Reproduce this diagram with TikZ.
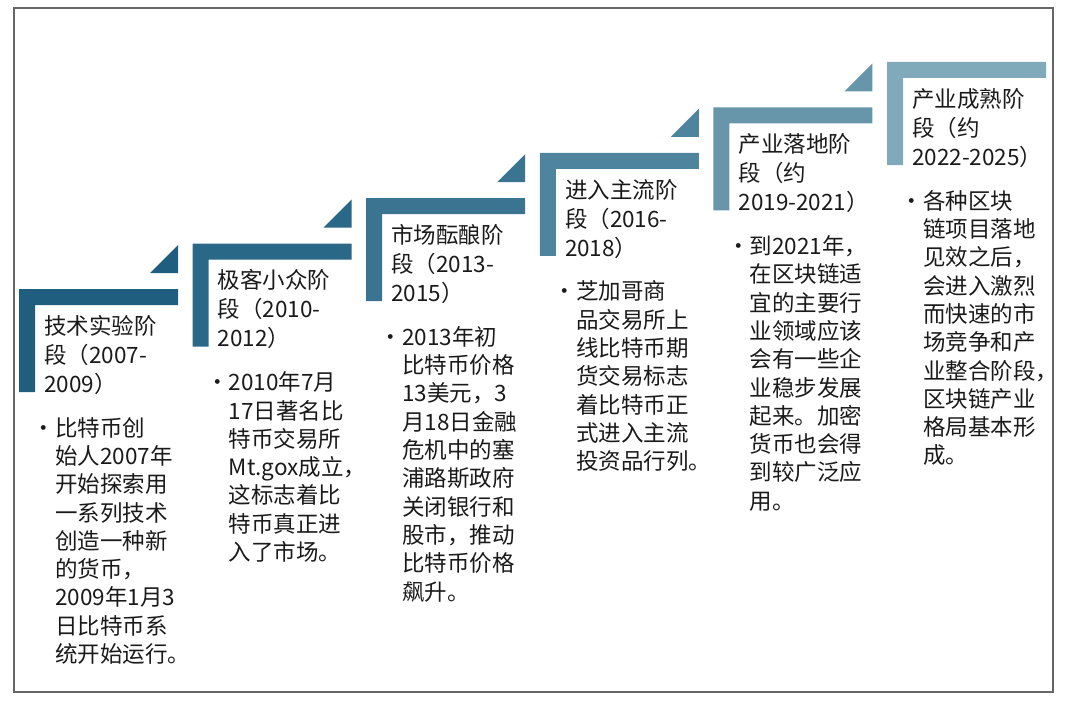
\documentclass[tikz,border=0pt]{standalone}
\usepackage{fontspec}
\setmainfont{Noto Sans CJK SC}
\definecolor{paso1}{HTML}{1F5E7E}
\definecolor{paso2}{HTML}{2A6888}
\definecolor{paso3}{HTML}{3A7491}
\definecolor{paso4}{HTML}{4E849E}
\definecolor{paso5}{HTML}{6796AB}
\definecolor{paso6}{HTML}{80A9BA}
\definecolor{letra}{HTML}{1A1A1A}
\tikzset{
  marco/.style={draw=black!60, line width=1.5pt},
  titulo/.style={anchor=north west, align=left, inner sep=0pt, text=letra,
    font=\fontsize{22.5}{29}\selectfont},
  texto/.style={anchor=north west, align=left, inner sep=0pt, text=letra,
    font=\fontsize{22.5}{28.3}\selectfont}
}
\begin{document}
\begin{tikzpicture}[x=1pt,y=-1pt] %Etapas del bitcoin
    \useasboundingbox (0,0) rectangle (1070,706);
    \draw[marco] (14,8) rectangle (1053,692);

    % escalones
    \foreach \n/\c in {0/paso1,1/paso2,2/paso3,3/paso4,4/paso5,5/paso6}{
        \coordinate (A) at (19+173.6*\n,289-45.4*\n);
        \fill[\c] (A) -- ++(159,0) -- ++(0,16) -- ++(-143,0) -- ++(0,87) -- ++(-16,0) -- cycle;
        \ifnum\n<5
            \fill[\c] ([shift={(131,-16)}]A) -- ++(28,0) -- ++(0,-28) -- cycle;
        \fi
    }

    \node[titulo] (t1) at (44,315) {技术实验阶\\段（2007-\\2009）};
    \node[texto] (c1) at (55,417) {\llap{•}比特币创\\始人2007年\\开始探索用\\一系列技术\\创造一种新\\的货币，\\2009年1月3\\日比特币系\\统开始运行。};

    \node[titulo] (t2) at (217.6,269.6) {极客小众阶\\段（2010-\\2012）};
    \node[texto] (c2) at (228.6,371.6) {\llap{•}2010年7月\\17日著名比\\特币交易所\\Mt.gox成立，\\这标志着比\\特币真正进\\入了市场。};

    \node[titulo] (t3) at (391.2,224.2) {市场酝酿阶\\段（2013-\\2015）};
    \node[texto] (c3) at (402.2,326.2) {\llap{•}2013年初\\比特币价格\\13美元，3\\月18日金融\\危机中的塞\\浦路斯政府\\关闭银行和\\股市，推动\\比特币价格\\飙升。};

    \node[titulo] (t4) at (564.8,178.8) {进入主流阶\\段（2016-\\2018）};
    \node[texto] (c4) at (575.8,280.8) {\llap{•}芝加哥商\\品交易所上\\线比特币期\\货交易标志\\着比特币正\\式进入主流\\投资品行列。};

    \node[titulo] (t5) at (738.4,133.4) {产业落地阶\\段（约\\2019-2021）};
    \node[texto] (c5) at (749.4,235.4) {\llap{•}到2021年，\\在区块链适\\宜的主要行\\业领域应该\\会有一些企\\业稳步发展\\起来。加密\\货币也会得\\到较广泛应\\用。};

    \node[titulo] (t6) at (912,88) {产业成熟阶\\段（约\\2022-2025）};
    \node[texto] (c6) at (923,190) {\llap{•}各种区块\\链项目落地\\见效之后，\\会进入激烈\\而快速的市\\场竞争和产\\业整合阶段，\\区块链产业\\格局基本形\\成。};
\end{tikzpicture}
\end{document}
